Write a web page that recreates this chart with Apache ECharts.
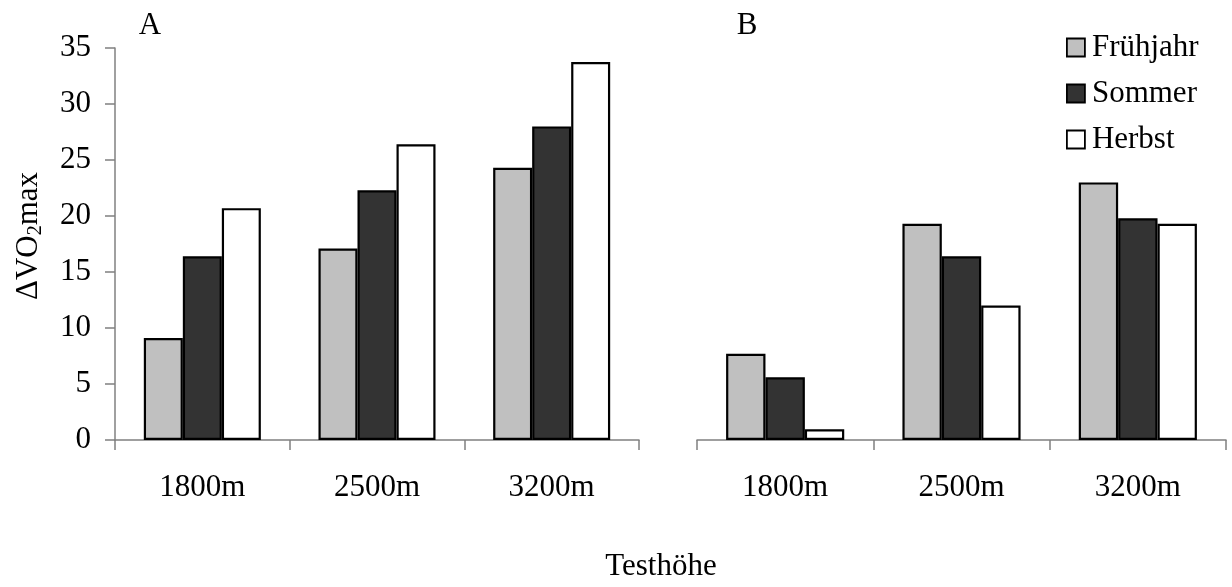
<!DOCTYPE html>
<html>
<head>
<meta charset="utf-8">
<script src="https://cdn.jsdelivr.net/npm/echarts@6/dist/echarts.min.js"></script>
<style>html,body{margin:0;padding:0;background:#fff}#c{width:1232px;height:587px}</style>
</head>
<body>
<div id="c"></div>
<script>
var categories = ['1800m', '2500m', '3200m'];
var seriesNames = ['Frühjahr', 'Sommer', 'Herbst'];
var fruehjahrA = [9.1, 17.1, 24.3];
var sommerA = [16.4, 22.3, 28.0];
var herbstA = [20.7, 26.4, 33.75];
var fruehjahrB = [7.7, 19.3, 23.0];
var sommerB = [5.6, 16.4, 19.8];
var herbstB = [0.95, 12.0, 19.3];
var yTicks = [0, 5, 10, 15, 20, 25, 30, 35];

var FONT = "'Liberation Serif', 'Times New Roman', serif";
var colors = ['#c0c0c0', '#333333', '#ffffff'];
var axisGray = '#808080';

var chart = echarts.init(document.getElementById('c'), null, {renderer: 'canvas'});

function xAxis(grid) {
  return {
    type: 'category', gridIndex: grid, data: categories,
    axisLine: {lineStyle: {color: axisGray, width: 1.5}},
    axisTick: {show: true, length: 10, lineStyle: {color: axisGray, width: 1.5}},
    axisLabel: {fontFamily: FONT, fontSize: 31, color: '#000', margin: 32}
  };
}
function yAxis(grid, show) {
  return {
    type: 'value', gridIndex: grid, min: yTicks[0], max: yTicks[yTicks.length - 1], interval: 5,
    splitLine: {show: false},
    axisLine: {show: show, lineStyle: {color: axisGray, width: 1.5}},
    axisTick: {show: show, length: 10, lineStyle: {color: axisGray, width: 1.5}},
    axisLabel: {show: show, fontFamily: FONT, fontSize: 31, color: '#000', margin: 24}
  };
}
function bar(name, data, idx, grid) {
  return {
    type: 'bar', name: name, data: data, xAxisIndex: grid, yAxisIndex: grid,
    barGap: '0%', barCategoryGap: '33%',
    itemStyle: {color: colors[idx], borderColor: '#000', borderWidth: 2.2},
    emphasis: {disabled: true},
    animation: false
  };
}

chart.setOption({
  animation: false,
  backgroundColor: '#fff',
  textStyle: {fontFamily: FONT},
  grid: [
    {left: 115, top: 48, width: 524, height: 392},
    {left: 697, top: 48, width: 529, height: 392}
  ],
  xAxis: [xAxis(0), xAxis(1)],
  yAxis: [yAxis(0, true), yAxis(1, false)],
  legend: {
    orient: 'vertical', left: 1061, top: 27,
    itemWidth: 18, itemHeight: 18, itemGap: 15,
    icon: 'rect',
    data: seriesNames.map(function (n, i) {
      return {name: n, itemStyle: {color: colors[i], borderColor: '#000', borderWidth: 1.8}};
    }),
    textStyle: {fontFamily: FONT, fontSize: 31, color: '#000', padding: [0, 0, 0, 2], lineHeight: 30},
    itemStyle: {borderColor: '#000', borderWidth: 1.8}
  },
  title: [
    {text: 'A', left: 150, top: 10, textAlign: 'center', textStyle: {fontFamily: FONT, fontSize: 31, fontWeight: 'normal', color: '#000'}, padding: 0},
    {text: 'B', left: 747, top: 10, textAlign: 'center', textStyle: {fontFamily: FONT, fontSize: 31, fontWeight: 'normal', color: '#000'}, padding: 0},
    {text: 'Testhöhe', left: 661, top: 551, textAlign: 'center', textStyle: {fontFamily: FONT, fontSize: 31, fontWeight: 'normal', color: '#000'}, padding: 0}
  ],
  graphic: [{
    type: 'text', x: 29, y: 236, rotation: Math.PI / 2,
    style: {
      text: '{a|ΔVO}{b|2}{a|max}',
      align: 'center', verticalAlign: 'middle',
      rich: {
        a: {fontFamily: FONT, fontSize: 31, fill: '#000', color: '#000'},
        b: {fontFamily: FONT, fontSize: 20, fill: '#000', color: '#000', padding: [14, 0, 0, 0]}
      }
    }
  }],
  series: [
    bar(seriesNames[0], fruehjahrA, 0, 0),
    bar(seriesNames[1], sommerA, 1, 0),
    bar(seriesNames[2], herbstA, 2, 0),
    bar(seriesNames[0], fruehjahrB, 0, 1),
    bar(seriesNames[1], sommerB, 1, 1),
    bar(seriesNames[2], herbstB, 2, 1)
  ]
});
</script>
</body>
</html>
